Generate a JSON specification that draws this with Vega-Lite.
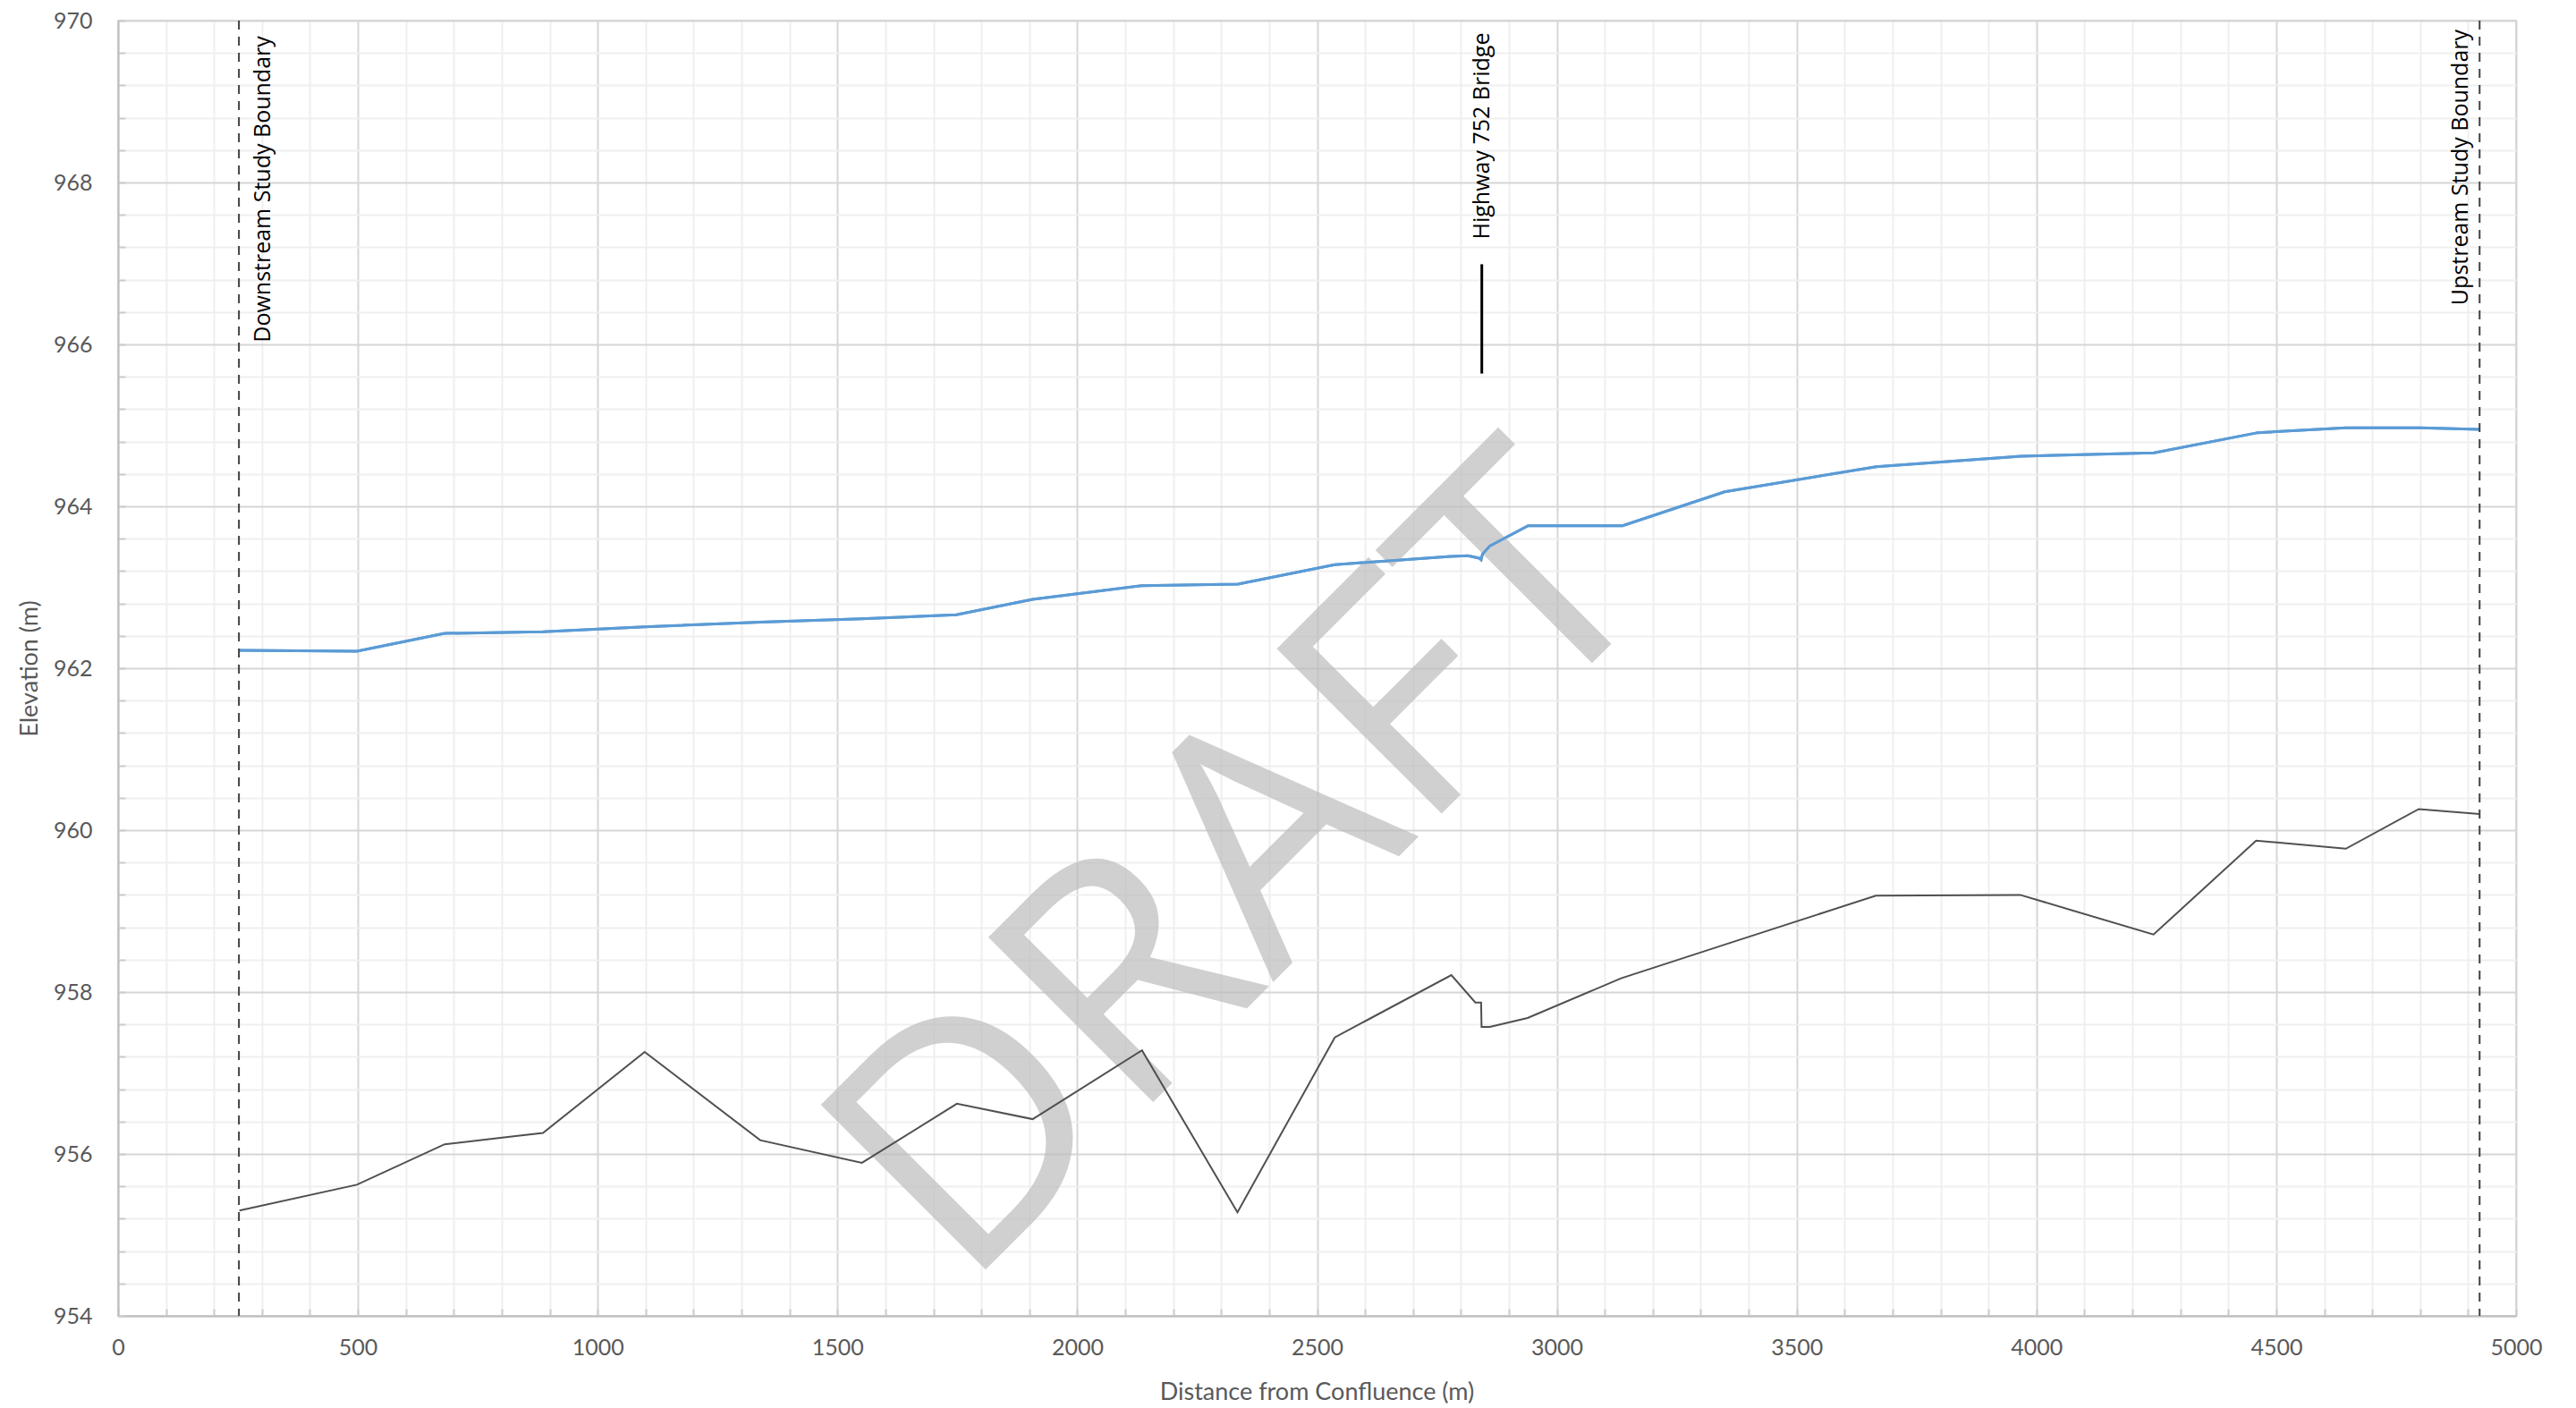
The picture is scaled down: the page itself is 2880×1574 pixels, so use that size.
{
  "$schema": "https://vega.github.io/schema/vega-lite/v6.json",
  "width": 2681,
  "height": 1448,
  "autosize": "none",
  "padding": {"left": 132, "top": 23, "right": 67, "bottom": 103},
  "background": "white",
  "config": {
    "view": {"stroke": "#d9d9d9", "strokeWidth": 2},
    "font": "Lato"
  },
  "datasets": {
    "water_surface": [
      {"station": 253, "elev": 962.22},
      {"station": 498, "elev": 962.21},
      {"station": 681, "elev": 962.43},
      {"station": 886, "elev": 962.45},
      {"station": 1098, "elev": 962.51},
      {"station": 1339, "elev": 962.57},
      {"station": 1550, "elev": 962.61},
      {"station": 1748, "elev": 962.66},
      {"station": 1907, "elev": 962.85},
      {"station": 2134, "elev": 963.02},
      {"station": 2335, "elev": 963.04},
      {"station": 2537, "elev": 963.28},
      {"station": 2779, "elev": 963.38},
      {"station": 2815, "elev": 963.39},
      {"station": 2838, "elev": 963.36},
      {"station": 2842, "elev": 963.34},
      {"station": 2845, "elev": 963.41},
      {"station": 2860, "elev": 963.51},
      {"station": 2940, "elev": 963.76},
      {"station": 3137, "elev": 963.76},
      {"station": 3350, "elev": 964.18},
      {"station": 3666, "elev": 964.49},
      {"station": 3968, "elev": 964.62},
      {"station": 4245, "elev": 964.66},
      {"station": 4462, "elev": 964.91},
      {"station": 4645, "elev": 964.97},
      {"station": 4800, "elev": 964.97},
      {"station": 4924, "elev": 964.95}
    ],
    "channel_bed": [
      {"station": 253, "elev": 955.30},
      {"station": 498, "elev": 955.62},
      {"station": 681, "elev": 956.12},
      {"station": 886, "elev": 956.26},
      {"station": 1098, "elev": 957.26},
      {"station": 1339, "elev": 956.17},
      {"station": 1551, "elev": 955.89},
      {"station": 1749, "elev": 956.62},
      {"station": 1907, "elev": 956.43},
      {"station": 2135, "elev": 957.28},
      {"station": 2334, "elev": 955.28},
      {"station": 2537, "elev": 957.44},
      {"station": 2780, "elev": 958.21},
      {"station": 2830, "elev": 957.87},
      {"station": 2842, "elev": 957.87},
      {"station": 2843, "elev": 957.57},
      {"station": 2860, "elev": 957.57},
      {"station": 2939, "elev": 957.68},
      {"station": 3134, "elev": 958.17},
      {"station": 3352, "elev": 958.59},
      {"station": 3665, "elev": 959.19},
      {"station": 3966, "elev": 959.20},
      {"station": 4244, "elev": 958.71},
      {"station": 4458, "elev": 959.87},
      {"station": 4645, "elev": 959.77},
      {"station": 4797, "elev": 960.26},
      {"station": 4924, "elev": 960.20}
    ],
    "boundaries": [
      {"station": 252, "label": "Downstream Study Boundary"},
      {"station": 4924, "label": "Upstream Study Boundary"}
    ],
    "bridge": [
      {"station": 2843.5, "label": "Highway 752 Bridge", "deck_low": 965.64, "deck_high": 966.99}
    ],
    "watermark": [
      {"word": "DRAFT"}
    ]
  },
  "layer": [
    {
      "data": {"name": "water_surface"},
      "mark": {"type": "line", "color": "#5b9bd5", "strokeWidth": 3},
      "encoding": {
        "x": {
          "field": "station",
          "type": "quantitative",
          "scale": {"domain": [0, 5000], "nice": false, "zero": false},
          "axis": {
            "values": [0, 100, 200, 300, 400, 500, 600, 700, 800, 900, 1000, 1100, 1200, 1300, 1400, 1500, 1600, 1700, 1800, 1900, 2000, 2100, 2200, 2300, 2400, 2500, 2600, 2700, 2800, 2900, 3000, 3100, 3200, 3300, 3400, 3500, 3600, 3700, 3800, 3900, 4000, 4100, 4200, 4300, 4400, 4500, 4600, 4700, 4800, 4900, 5000],
            "tickCount": 200,
            "format": "d",
            "labelExpr": "datum.value % 500 === 0 ? datum.label : ''",
            "labelOverlap": false,
            "labelFlush": false,
            "labelFont": "Lato",
            "labelFontSize": 25,
            "labelColor": "#595959",
            "labelBaseline": "middle",
            "labelPadding": 43,
            "grid": true,
            "gridColor": {"condition": {"test": "datum.value % 500 === 0", "value": "#d6d6d6"}, "value": "#efefef"},
            "gridWidth": 2,
            "domainColor": "#bfbfbf",
            "domainWidth": 2,
            "ticks": true,
            "tickSize": -8,
            "tickWidth": 2,
            "tickColor": "#cdcdcd",
            "title": "Distance from Confluence (m)",
            "titleFont": "Lato",
            "titleFontSize": 27,
            "titleFontWeight": "normal",
            "titleColor": "#595959",
            "titleX": 1340,
            "titleY": 85,
            "titleBaseline": "middle"
          }
        },
        "y": {
          "field": "elev",
          "type": "quantitative",
          "scale": {"domain": [954, 970], "nice": false, "zero": false},
          "axis": {
            "values": [954, 954.4, 954.8, 955.2, 955.6, 956, 956.4, 956.8, 957.2, 957.6, 958, 958.4, 958.8, 959.2, 959.6, 960, 960.4, 960.8, 961.2, 961.6, 962, 962.4, 962.8, 963.2, 963.6, 964, 964.4, 964.8, 965.2, 965.6, 966, 966.4, 966.8, 967.2, 967.6, 968, 968.4, 968.8, 969.2, 969.6, 970],
            "tickCount": 200,
            "labelExpr": "datum.value % 2 === 0 ? format(datum.value, 'd') : ''",
            "labelOverlap": false,
            "labelFlush": false,
            "labelFont": "Lato",
            "labelFontSize": 25,
            "labelColor": "#595959",
            "labelPadding": 37,
            "grid": true,
            "gridColor": {"condition": {"test": "datum.value % 2 === 0", "value": "#d6d6d6"}, "value": "#efefef"},
            "gridWidth": 2,
            "domainColor": "#bfbfbf",
            "domainWidth": 2,
            "ticks": true,
            "tickSize": -8,
            "tickWidth": 2,
            "tickColor": "#cdcdcd",
            "title": "Elevation (m)",
            "titleFont": "Lato",
            "titleFontSize": 27,
            "titleFontWeight": "normal",
            "titleColor": "#595959",
            "titleX": -99,
            "titleY": 724,
            "titleBaseline": "middle"
          }
        }
      }
    },
    {
      "data": {"name": "watermark"},
      "mark": {
        "type": "text",
        "font": "Open Sans",
        "fontSize": 365,
        "angle": -45,
        "align": "center",
        "baseline": "alphabetic",
        "color": "#bdbdbd",
        "opacity": 0.7
      },
      "encoding": {
        "x": {"datum": 2494, "type": "quantitative"},
        "y": {"datum": 958.63, "type": "quantitative"},
        "text": {"field": "word"}
      }
    },
    {
      "data": {"name": "water_surface"},
      "mark": {"type": "line", "color": "#5b9bd5", "strokeWidth": 3},
      "encoding": {
        "x": {"field": "station", "type": "quantitative"},
        "y": {"field": "elev", "type": "quantitative"}
      }
    },
    {
      "data": {"name": "channel_bed"},
      "mark": {"type": "line", "color": "#505050", "strokeWidth": 2},
      "encoding": {
        "x": {"field": "station", "type": "quantitative"},
        "y": {"field": "elev", "type": "quantitative"}
      }
    },
    {
      "data": {"name": "boundaries"},
      "mark": {"type": "rule", "color": "#404040", "strokeWidth": 2, "strokeDash": [10, 8]},
      "encoding": {
        "x": {"field": "station", "type": "quantitative"}
      }
    },
    {
      "data": {"name": "bridge"},
      "mark": {"type": "rule", "color": "#000000", "strokeWidth": 3},
      "encoding": {
        "x": {"field": "station", "type": "quantitative"},
        "y": {"field": "deck_low", "type": "quantitative"},
        "y2": {"field": "deck_high"}
      }
    },
    {
      "data": {"name": "boundaries"},
      "transform": [{"filter": "datum.label === 'Downstream Study Boundary'"}],
      "mark": {"type": "text", "font": "Open Sans", "fontSize": 25, "color": "#000000", "angle": 270, "align": "right", "baseline": "middle", "dy": 27},
      "encoding": {
        "x": {"field": "station", "type": "quantitative"},
        "y": {"datum": 969.81, "type": "quantitative"},
        "text": {"field": "label"}
      }
    },
    {
      "data": {"name": "boundaries"},
      "transform": [{"filter": "datum.label === 'Upstream Study Boundary'"}],
      "mark": {"type": "text", "font": "Open Sans", "fontSize": 25, "color": "#000000", "angle": 270, "align": "right", "baseline": "middle", "dy": -21},
      "encoding": {
        "x": {"field": "station", "type": "quantitative"},
        "y": {"datum": 969.89, "type": "quantitative"},
        "text": {"field": "label"}
      }
    },
    {
      "data": {"name": "bridge"},
      "mark": {"type": "text", "font": "Open Sans", "fontSize": 25, "color": "#000000", "angle": 270, "align": "right", "baseline": "middle", "dy": 0},
      "encoding": {
        "x": {"field": "station", "type": "quantitative"},
        "y": {"datum": 969.85, "type": "quantitative"},
        "text": {"field": "label"}
      }
    }
  ]
}
